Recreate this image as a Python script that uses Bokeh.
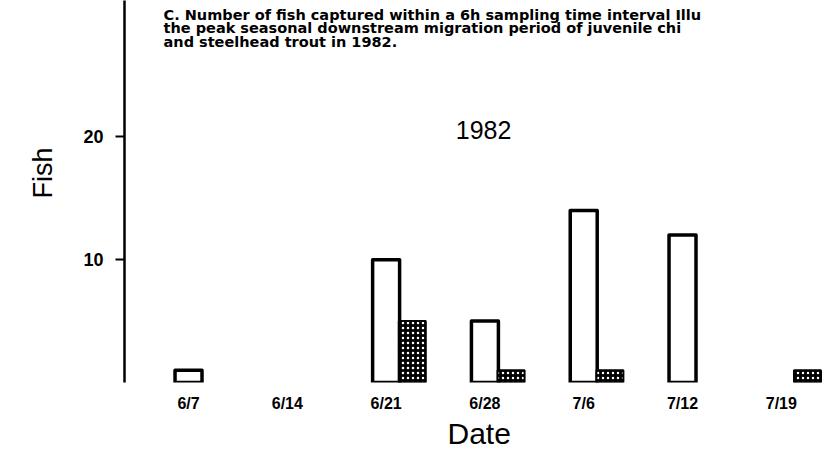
from bokeh.plotting import figure
from bokeh.models import ColumnDataSource, Range1d, FixedTicker, Label, Title
from bokeh.embed import file_html
from bokeh.resources import INLINE

# ---- data ----
dates = ["6/7", "6/14", "6/21", "6/28", "7/6", "7/12", "7/19"]
chinook = [1, 0, 10, 5, 14, 12, 0]
steelhead = [0, 0, 5, 1, 1, 0, 1]
y_ticks = [10, 20]
year_label = "1982"
title_lines = [
    "C. Number of fish captured within a 6h sampling time interval Illu",
    "the peak seasonal downstream migration period of juvenile chi",
    "and steelhead trout in 1982.",
]

BAR_W = 0.273
OFFSET = 0.265
idx = list(range(len(dates)))

open_src = ColumnDataSource(dict(
    x=[i for i, v in zip(idx, chinook) if v > 0],
    top=[v for v in chinook if v > 0],
))
hatch_src = ColumnDataSource(dict(
    x=[i + OFFSET for i, v in zip(idx, steelhead) if v > 0],
    top=[v for v in steelhead if v > 0],
))

YMAX = 31.09
p = figure(width=823, height=449, output_backend="svg", toolbar_location=None,
           x_range=Range1d(-0.648, 6.427), y_range=Range1d(0, YMAX),
           min_border_left=124, min_border_right=0, min_border_top=0,
           min_border_bottom=65)
p.outline_line_color = None
p.xgrid.visible = False
p.ygrid.visible = False
p.background_fill_color = "white"
p.border_fill_color = "white"

p.vbar(x="x", top="top", bottom=0, width=BAR_W, source=open_src,
       fill_color="white", line_color="black", line_width=3.5, line_join="round")
p.vbar(x="x", top="top", bottom=0, width=BAR_W, source=hatch_src,
       fill_color="black", line_color="black", line_width=2,
       hatch_pattern="dot", hatch_color="white", hatch_scale=5, hatch_weight=2.5)

# y axis
ya = p.yaxis[0]
ya.ticker = FixedTicker(ticks=y_ticks)
ya.minor_tick_line_color = None
ya.axis_line_width = 2.5
ya.major_tick_line_width = 2
ya.major_tick_out = 9
ya.major_tick_in = 0
ya.major_label_standoff = 12
ya.major_label_text_font = "Liberation Sans"
ya.major_label_text_font_style = "bold"
ya.major_label_text_font_size = "18px"
ya.major_label_text_color = "black"

# x axis
xa = p.xaxis[0]
xa.ticker = FixedTicker(ticks=idx)
xa.major_label_overrides = {i: d for i, d in zip(idx, dates)}
xa.axis_line_color = None
xa.major_tick_line_color = None
xa.minor_tick_line_color = None
xa.major_tick_out = 0
xa.major_tick_in = 0
xa.major_label_standoff = 12
xa.major_label_text_font = "Liberation Sans"
xa.major_label_text_font_style = "bold"
xa.major_label_text_font_size = "16px"
xa.major_label_text_color = "black"

# axis titles
p.add_layout(Title(text="Fish", align="left", offset=184, standoff=46,
                   text_font="Liberation Sans", text_font_style="normal",
                   text_font_size="27px", text_color="black"), "left")
p.add_layout(Title(text="Date", align="left", offset=323, standoff=0,
                   text_font="Liberation Sans", text_font_style="normal",
                   text_font_size="30px", text_color="black"), "below")

# 1982 label
p.add_layout(Label(x=2.986, y=20.57, text=year_label, text_align="center",
                   text_baseline="middle", text_font="Liberation Sans",
                   text_font_size="25px", text_color="black"))

# caption lines
for k, line in enumerate(title_lines):
    p.add_layout(Label(x=-0.253, y=YMAX, y_offset=-(14 + 13.5 * k), text=line,
                       text_align="left", text_baseline="alphabetic",
                       text_font="DejaVu Sans", text_font_style="bold",
                       text_font_size="14.5px", text_color="black"))

open("out.html", "w").write(file_html(p, INLINE))
